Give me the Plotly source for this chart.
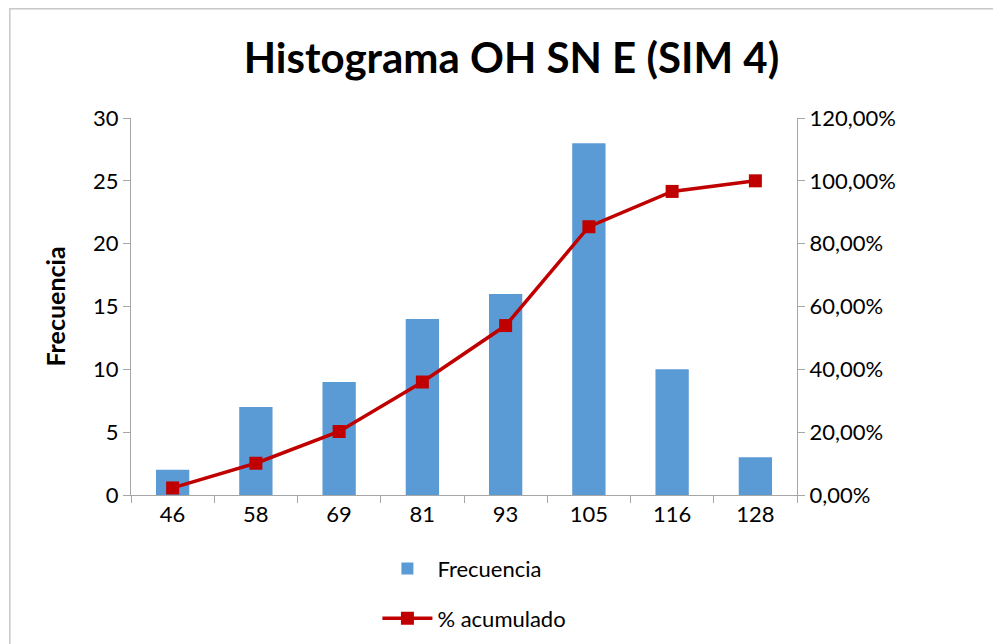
import plotly.graph_objs as go

clases = ["46", "58", "69", "81", "93", "105", "116", "128"]
frecuencia = [2, 7, 9, 14, 16, 28, 10, 3]
acumulado = [0.0225, 0.1011, 0.2022, 0.3596, 0.5393, 0.8539, 0.9663, 1.0]

font_fam = "Lato, 'Open Sans', sans-serif"
axis_gray = "#A6A6A6"

fig = go.Figure()

fig.add_trace(go.Bar(
    x=clases, y=frecuencia,
    name="Frecuencia",
    legendgroup="a",
    marker=dict(color="#5B9BD5", line=dict(width=0)),
))

fig.add_trace(go.Scatter(
    x=clases, y=acumulado,
    name="% acumulado",
    legendgroup="b",
    yaxis="y2",
    mode="lines+markers",
    line=dict(color="#C00000", width=3.5),
    marker=dict(symbol="square", size=13, color="#C00000"),
))

fig.update_layout(
    width=1001, height=644,
    autosize=False,
    paper_bgcolor="white",
    plot_bgcolor="white",
    separators=",.",
    font=dict(family=font_fam, size=22, color="#000000"),
    title=dict(
        text="<b>Histograma OH SN E (SIM 4)</b>",
        x=0.503, xanchor="center",
        y=0.922, yanchor="middle",
        font=dict(size=42, family=font_fam),
    ),
    bargap=0.6,
    margin=dict(l=123, r=212, t=110, b=155),
    xaxis=dict(
        type="category",
        showline=True, linecolor=axis_gray, linewidth=1,
        ticks="outside", tickson="boundaries", ticklen=7, tickcolor=axis_gray,
        showgrid=False, zeroline=False,
    ),
    yaxis=dict(
        range=[0, 30], dtick=5,
        showline=True, linecolor=axis_gray, linewidth=1,
        ticks="outside", ticklen=7, tickcolor=axis_gray,
        showgrid=False, zeroline=False,
        title=dict(text="<b>Frecuencia</b>", font=dict(size=25), standoff=20),
    ),
    yaxis2=dict(
        overlaying="y", side="right",
        range=[0, 1.2], dtick=0.2, tickformat=".2%",
        showline=True, linecolor=axis_gray, linewidth=1,
        ticks="outside", ticklen=7, tickcolor=axis_gray,
        showgrid=False, zeroline=False,
    ),
    legend=dict(
        orientation="v",
        traceorder="grouped",
        x=0.37, xanchor="left",
        y=-0.14, yanchor="top",
        font=dict(size=22),
        tracegroupgap=18,
        itemwidth=50,
    ),
    shapes=[dict(
        type="rect", xref="paper", yref="paper",
        x0=-0.182, x1=1.4, y0=-0.5, y1=1.29,
        line=dict(color="#C8C8C8", width=1.5),
        fillcolor="rgba(0,0,0,0)", layer="below",
    )],
)

fig.write_html("out.html")
